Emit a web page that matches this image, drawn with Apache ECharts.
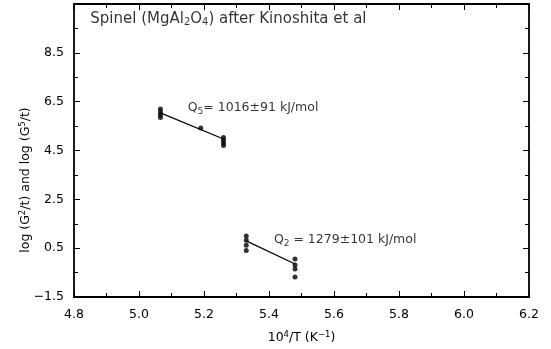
<!DOCTYPE html>
<html><head><meta charset="utf-8">
<script src="https://cdn.jsdelivr.net/npm/echarts@6/dist/echarts.min.js"></script>
<style>html,body{margin:0;padding:0;background:#fff}#c{width:551px;height:349px}</style>
</head><body><div id="c"></div>
<script>
// Data
const q5X = [5.066, 5.066, 5.066, 5.066, 5.19, 5.26, 5.26, 5.26, 5.26];
const q5Y = [6.20, 6.08, 5.96, 5.85, 5.42, 5.03, 4.92, 4.81, 4.70];
const q5FitX = [5.066, 5.26];
const q5FitY = [6.04, 4.97];
const q2X = [5.33, 5.33, 5.33, 5.33, 5.48, 5.48, 5.48, 5.48];
const q2Y = [1.00, 0.82, 0.62, 0.40, 0.06, -0.19, -0.35, -0.68];
const q2FitX = [5.33, 5.48];
const q2FitY = [0.80, -0.15];
const xTicks = [4.8, 5.0, 5.2, 5.4, 5.6, 5.8, 6.0, 6.2];
const yTicks = [-1.5, 0.5, 2.5, 4.5, 6.5, 8.5];
const q5Label = {x: 5.15, y: 6.24, text: '{n|Q}{s|5}{n|= 1016±91 kJ/mol}'};
const q2Label = {x: 5.415, y: 0.84, text: '{n|Q}{s|2}{n| = 1279±101 kJ/mol}'};
const titleText = '{n|Spinel (MgAl}{s|2}{n|O}{s|4}{n|) after Kinoshita et al}';

const zip = (a, b) => a.map((v, i) => [v, b[i]]);
const FONT = 'DejaVu Sans';
const rich = {
  n: {fontFamily: FONT, fontSize: 12.5, color: '#000'},
  s: {fontFamily: FONT, fontSize: 9, color: '#000', verticalAlign: 'bottom', padding: [7, 0, 0, 0]}
};
const axisCommon = {
  axisLine: {onZero: false, lineStyle: {color: '#000', width: 1.8}},
  axisTick: {inside: true, length: 6, lineStyle: {color: '#000', width: 1}},
  minorTick: {show: true, splitNumber: 2, length: 4, lineStyle: {color: '#000', width: 1}},
  splitLine: {show: false}
};
const chart = echarts.init(document.getElementById('c'));
chart.setOption({
  animation: false,
  backgroundColor: '#fff',
  grid: {left: 74, right: 22, top: 4, bottom: 52},
  graphic: [{
    type: 'text', x: 26, y: 180, rotation: Math.PI / 2,
    style: {
      text: '{n|log (G}{p|2}{n|/t) and log (G}{p|5}{n|/t)}',
      align: 'center', verticalAlign: 'middle',
      rich: {n: {fontFamily: FONT, fontSize: 12.5, fill: '#000'}, p: {fontFamily: FONT, fontSize: 8.5, fill: '#000', verticalAlign: 'top', padding: [0, 0, 6, 0]}}
    }
  }],
  xAxis: [
    Object.assign({type: 'value', min: 4.8, max: 6.2, interval: 0.2, position: 'bottom',
      name: '{n|10}{p|4}{n|/T (K}{p|−1}{n|)}', nameLocation: 'middle', nameGap: 33,
      nameTextStyle: {rich: {n: {fontFamily: FONT, fontSize: 12.5, color: '#000'}, p: {fontFamily: FONT, fontSize: 8.5, color: '#000', verticalAlign: 'top', padding: [0, 0, 6, 0]}}},
      axisLabel: {color: '#000', fontFamily: FONT, fontSize: 12.5, margin: 11,
        formatter: v => { const t = xTicks.find(x => Math.abs(x - v) < 1e-6); return t !== undefined ? t.toFixed(1) : ''; }}
    }, axisCommon),
    Object.assign({type: 'value', min: 4.8, max: 6.2, interval: 0.2, position: 'top', axisLabel: {show: false}}, axisCommon)
  ],
  yAxis: [
    Object.assign({type: 'value', min: -1.5, max: 10.5, interval: 2, position: 'left',
      axisLabel: {color: '#000', fontFamily: FONT, fontSize: 12.5, margin: 10,
        formatter: v => { const t = yTicks.find(y => Math.abs(y - v) < 1e-6); return t !== undefined ? (t < 0 ? '−' + Math.abs(t).toFixed(1) : t.toFixed(1)) : ''; }}
    }, axisCommon),
    Object.assign({type: 'value', min: -1.5, max: 10.5, interval: 2, position: 'right', axisLabel: {show: false}}, axisCommon)
  ],
  series: [
    {type: 'scatter', data: zip(q5X, q5Y), symbol: 'circle', symbolSize: 5, itemStyle: {color: '#000'}},
    {type: 'line', data: zip(q5FitX, q5FitY), symbol: 'none', lineStyle: {color: '#000', width: 1.2}},
    {type: 'scatter', data: zip(q2X, q2Y), symbol: 'circle', symbolSize: 5, itemStyle: {color: '#000'}},
    {type: 'line', data: zip(q2FitX, q2FitY), symbol: 'none', lineStyle: {color: '#000', width: 1.2}},
    {type: 'scatter', symbolSize: 0, silent: true,
      data: [[q5Label.x, q5Label.y, q5Label.text], [q2Label.x, q2Label.y, q2Label.text]],
      label: {show: true, position: 'right', distance: 0, formatter: p => p.data[2], rich: rich}},
    {type: 'scatter', symbolSize: 0, silent: true,
      data: [[4.85, 9.9, titleText]],
      label: {show: true, position: 'right', distance: 0, formatter: p => p.data[2],
        rich: {n: {fontFamily: FONT, fontSize: 15, color: '#000'}, s: {fontFamily: FONT, fontSize: 10, color: '#000', verticalAlign: 'bottom', padding: [8, 0, 0, 0]}}}}
  ]
});
</script></body></html>
